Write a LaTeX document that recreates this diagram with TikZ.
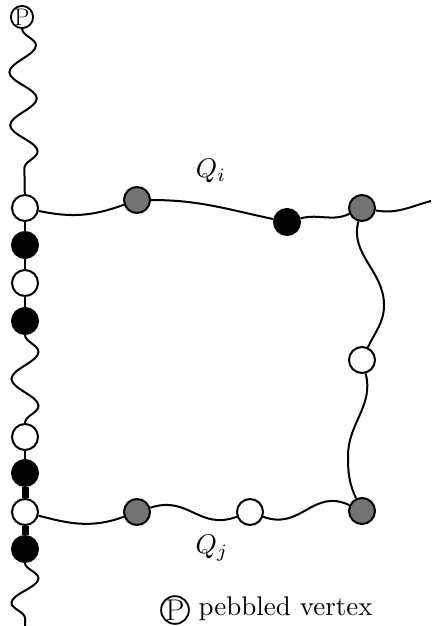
\documentclass[tikz,border=0pt]{standalone}
\usetikzlibrary{decorations.pathmorphing}
\begin{document}
\begin{tikzpicture}[x=1pt,y=1pt,
  vtx/.style={circle, draw, line width=2pt, minimum size=26pt, inner sep=0pt},
  wv/.style={vtx, fill=white},
  bk/.style={vtx, fill=black},
  gy/.style={vtx, fill=black!55},
  edge/.style={line width=2pt},
  thickedge/.style={line width=7pt},
  wavy/.style={edge, decorate, decoration={snake, amplitude=13.5pt, segment length=#1}},
  lbl/.style={inner sep=0pt, scale=2.7},
  pbl/.style={circle, draw, line width=1.8pt, inner sep=0pt},
]
\useasboundingbox (0,0) rectangle (431,-626);
% left column
\node[pbl, minimum size=21pt, font=\fontsize{24}{24}\selectfont] (P) at (22,-17) {P};
\node[wv] (w1) at (25,-208) {};
\node[bk] (b1) at (25,-245) {};
\node[wv] (w2) at (25,-283) {};
\node[bk] (b2) at (25,-321) {};
\node[wv] (w3) at (25,-437) {};
\node[bk] (b3) at (25,-473) {};
\node[wv] (w4) at (25,-512) {};
\node[bk] (b4) at (25,-549) {};
\coordinate (eB) at (25,-626);
% Q_i
\node[gy] (g1) at (137,-200) {};
\node[bk] (k1) at (287,-222) {};
\node[gy] (g2) at (362,-208) {};
\coordinate (eR) at (431,-201);
% right side
\node[wv] (w5) at (362,-360) {};
\coordinate (r1) at (384,-305);
\coordinate (r2) at (348,-456);
% Q_j
\node[gy] (g4) at (137,-512) {};
\node[wv] (w6) at (250,-512) {};
\node[gy] (g3) at (362,-511) {};
% labels
\node[lbl] (Qi) at (211,-171) {$Q_i$};
\node[lbl] (Qj) at (212,-548) {$Q_j$};
\node[pbl, minimum size=25pt, font=\fontsize{30}{30}\selectfont] (LP) at (175,-610) {P};
\node[lbl, anchor=base west] (LT) at (198,-615) {pebbled vertex};
% connectors, left column
\draw[wavy=53pt] (P) -- (w1);
\draw[edge] (w1) -- (b1) (b1) -- (w2) (w2) -- (b2);
\draw[wavy=54pt] (b2) -- (w3);
\draw[edge] (w3) -- (b3);
\draw[thickedge] (b3) -- (w4) (w4) -- (b4);
\draw[wavy=49pt] (b4) -- (eB);
% Q_i
\draw[edge] (w1) to[out=-12,in=200] (g1);
\draw[edge] (g1) to[out=0,in=168] (k1);
\draw[edge] (k1) to[out=15,in=205] (g2);
\draw[edge] (g2) to[out=-10,in=195] (eR);
% right side
\draw[edge] (g2) to[out=-105,in=90] (r1) to[out=-90,in=65] (w5);
\draw[edge] (w5) to[out=-75,in=90] (r2) to[out=-90,in=115] (g3);
% Q_j
\draw[edge] (w4) to[out=-15,in=200] (g4);
\draw[edge] (g4) to[out=18,in=200,looseness=1.2] (w6);
\draw[edge] (w6) to[out=-20,in=155,looseness=1.2] (g3);
\end{tikzpicture}
\end{document}
